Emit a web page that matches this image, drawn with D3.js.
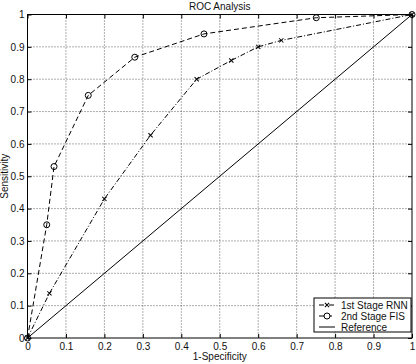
<!DOCTYPE html>
<html>
<head>
<meta charset="utf-8">
<script src="https://cdn.jsdelivr.net/npm/d3@7"></script>
<style>
  body { margin: 0; background: #fff; }
  text { font-family: "Liberation Sans", Arial, sans-serif; fill: #111; }
</style>
</head>
<body>
<div id="svg-holder"></div>
<script>
let width = 416,
    height = 364

// data
let rnnX = [0, 0.057, 0.2, 0.32, 0.44, 0.53, 0.60, 0.66, 1]
let rnnY = [0, 0.138, 0.43, 0.627, 0.80, 0.858, 0.90, 0.92, 1]
let fisX = [0, 0.05, 0.069, 0.158, 0.279, 0.459, 0.751, 1]
let fisY = [0, 0.35, 0.53, 0.75, 0.868, 0.94, 0.99, 1]
let refX = [0, 1]
let refY = [0, 1]
let ticks = [0, 0.1, 0.2, 0.3, 0.4, 0.5, 0.6, 0.7, 0.8, 0.9, 1]
let legendNames = ["1st Stage RNN", "2nd Stage FIS", "Reference"]

let svg = d3.select("#svg-holder").append('svg')
    .attr("width", width)
    .attr("height", height)

let pLeft = 27.5, pRight = 412, pTop = 14.5, pBottom = 338

let x = d3.scaleLinear().domain([0, 1]).range([pLeft, pRight])
let y = d3.scaleLinear().domain([0, 1]).range([pBottom, pTop])

// grid
svg.append('g')
    .selectAll('line')
    .data(ticks.slice(1, -1))
    .enter()
    .append('line')
        .attr('x1', d => x(d)).attr('x2', d => x(d))
        .attr('y1', pTop).attr('y2', pBottom)
        .attr('stroke', '#333')
        .attr('stroke-width', 0.8)
        .attr('stroke-dasharray', '1,2')

svg.append('g')
    .selectAll('line')
    .data(ticks.slice(1, -1))
    .enter()
    .append('line')
        .attr('x1', pLeft).attr('x2', pRight)
        .attr('y1', d => y(d)).attr('y2', d => y(d))
        .attr('stroke', '#333')
        .attr('stroke-width', 0.8)
        .attr('stroke-dasharray', '1,2')

// axes
let fmt = d => d3.format("")(d)
svg.append('g')
    .attr('transform', `translate(0,${pBottom})`)
    .call(d3.axisBottom(x).tickValues(ticks).tickFormat(fmt).tickSizeInner(-4).tickSizeOuter(0).tickPadding(5))
    .call(g => g.select('.domain').remove())
    .call(g => g.selectAll('text').style('font-size', '10px'))
svg.append('g')
    .attr('transform', `translate(${pLeft},0)`)
    .call(d3.axisLeft(y).tickValues(ticks).tickFormat(fmt).tickSizeInner(-4).tickSizeOuter(0).tickPadding(3))
    .call(g => g.select('.domain').remove())
    .call(g => g.selectAll('text').style('font-size', '10px'))

// right/top ticks
svg.append('g')
    .attr('transform', `translate(0,${pTop})`)
    .call(d3.axisTop(x).tickValues(ticks).tickFormat('').tickSizeInner(-4).tickSizeOuter(0))
    .call(g => g.select('.domain').remove())
svg.append('g')
    .attr('transform', `translate(${pRight},0)`)
    .call(d3.axisRight(y).tickValues(ticks).tickFormat('').tickSizeInner(-4).tickSizeOuter(0))
    .call(g => g.select('.domain').remove())

svg.append('rect')
    .attr('x', pLeft).attr('y', pTop)
    .attr('width', pRight - pLeft).attr('height', pBottom - pTop)
    .attr('fill', 'none')
    .attr('stroke', 'black')

let line = d3.line().x(d => x(d[0])).y(d => y(d[1]))

// reference
svg.append('path')
    .attr('d', line(d3.zip(refX, refY)))
    .attr('stroke', 'black')
    .attr('stroke-width', 1)
    .attr('fill', 'none')

// 1st stage RNN
let rnn = d3.zip(rnnX, rnnY)
svg.append('path')
    .attr('d', line(rnn))
    .attr('stroke', 'black')
    .attr('stroke-dasharray', '5,2,1,2')
    .attr('fill', 'none')
svg.append('g')
    .selectAll('path')
    .data(rnn)
    .enter()
    .append('path')
        .attr('transform', d => `translate(${x(d[0])},${y(d[1])}) rotate(45)`)
        .attr('d', 'M-3,0H3M0,-3V3')
        .attr('stroke', 'black')
        .attr('fill', 'none')

// 2nd stage FIS
let fis = d3.zip(fisX, fisY)
svg.append('path')
    .attr('d', line(fis))
    .attr('stroke', 'black')
    .attr('stroke-dasharray', '5,3')
    .attr('fill', 'none')
svg.append('g')
    .selectAll('circle')
    .data(fis)
    .enter()
    .append('circle')
        .attr('cx', d => x(d[0]))
        .attr('cy', d => y(d[1]))
        .attr('r', 3)
        .attr('stroke', 'black')
        .attr('fill', 'none')

// title and labels
svg.append('text')
    .attr('x', (pLeft + pRight) / 2).attr('y', 10)
    .attr('text-anchor', 'middle')
    .style('font-size', '10px')
    .text('ROC Analysis')
svg.append('text')
    .attr('x', (pLeft + pRight) / 2).attr('y', 360)
    .attr('text-anchor', 'middle')
    .style('font-size', '10px')
    .text('1-Specificity')
svg.append('text')
    .attr('transform', `translate(8,${(pTop + pBottom) / 2}) rotate(-90)`)
    .attr('text-anchor', 'middle')
    .style('font-size', '10px')
    .text('Sensitivity')

// legend
let lg = svg.append('g').attr('transform', 'translate(314,298)')
lg.append('rect')
    .attr('width', 97).attr('height', 34)
    .attr('fill', 'white')
    .attr('stroke', 'black')
let dashes = ['5,2,1,2', '5,3', null]
legendNames.forEach((name, i) => {
    let yy = 7 + i * 11
    lg.append('line')
        .attr('x1', 5).attr('x2', 21)
        .attr('y1', yy).attr('y2', yy)
        .attr('stroke', 'black')
        .attr('stroke-dasharray', dashes[i])
    if (i == 0) lg.append('path')
        .attr('transform', `translate(13,${yy}) rotate(45)`)
        .attr('d', 'M-3,0H3M0,-3V3')
        .attr('stroke', 'black')
    if (i == 1) lg.append('circle')
        .attr('cx', 13).attr('cy', yy).attr('r', 3)
        .attr('stroke', 'black').attr('fill', 'white')
    lg.append('text')
        .attr('x', 27).attr('y', yy + 3.5)
        .style('font-size', '10px')
        .text(name)
})
</script>
</body>
</html>
